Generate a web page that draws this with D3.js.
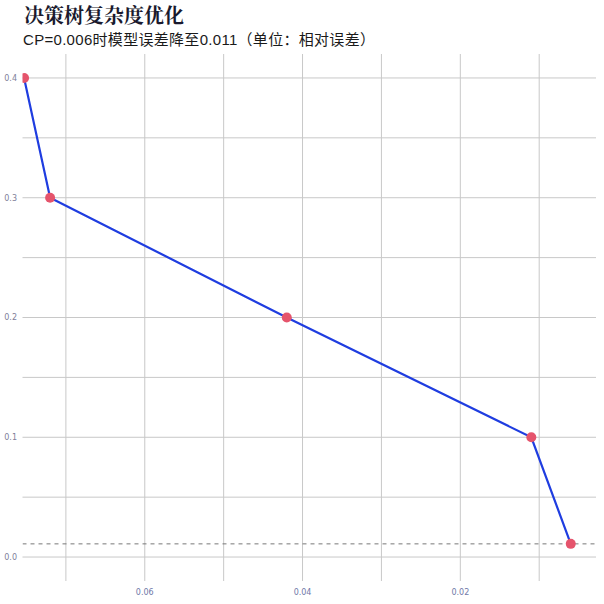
<!DOCTYPE html>
<html>
<head>
<meta charset="utf-8">
<script src="https://cdn.jsdelivr.net/npm/d3@7"></script>
<style>
  body { margin: 0; background: #fff; }
  svg { display: block; }
</style>
</head>
<body>
<svg id="chart" width="604" height="604"></svg>
<script>
// CP values (x, reversed) and relative error (y)
const cpValues = [0.0753, 0.072, 0.042, 0.011, 0.006];
const errorValues = [0.4, 0.3, 0.2, 0.1, 0.011];
const xMajorTicks = [0.06, 0.04, 0.02];
const xMinorTicks = [0.07, 0.05, 0.03, 0.01];
const yMajorTicks = [0.0, 0.1, 0.2, 0.3, 0.4];
const yMinorTicks = [0.05, 0.15, 0.25, 0.35];
const bestError = 0.011;
const titleText = "决策树复杂度优化";
const subtitleText = "CP=0.006时模型误差降至0.011（单位：相对误差）";

const data = cpValues.map((cp, i) => ({ cp, err: errorValues[i] }));

const svg = d3.select("#chart");
const panel = { left: 22.5, right: 596, top: 54, bottom: 581 };

const x = d3.scaleLinear()
    .domain([0.0755, 0.0028])
    .range([panel.left, panel.right]);

const y = d3.scaleLinear()
    .domain([-0.02, 0.42])
    .range([panel.bottom, panel.top]);

// Title and subtitle
svg.append("text")
    .attr("x", 24)
    .attr("y", 23)
    .attr("font-family", "'Noto Serif CJK SC', 'Noto Sans CJK SC', serif")
    .attr("font-weight", "bold")
    .attr("font-size", "20px")
    .attr("fill", "#1a1a2e")
    .text(titleText);

svg.append("text")
    .attr("x", 23)
    .attr("y", 45)
    .attr("font-family", "'Liberation Sans', 'Noto Sans CJK SC', sans-serif")
    .attr("font-size", "15px")
    .attr("letter-spacing", "0.3px")
    .attr("fill", "#1a1a1a")
    .text(subtitleText);

// Grid
const grid = svg.append("g").attr("stroke", "#c8c8c8").attr("stroke-width", 1);

grid.selectAll("line.yg")
    .data(yMajorTicks.concat(yMinorTicks))
    .join("line")
    .attr("class", "yg")
    .attr("x1", panel.left)
    .attr("x2", panel.right)
    .attr("y1", d => y(d))
    .attr("y2", d => y(d));

grid.selectAll("line.xg")
    .data(xMajorTicks.concat(xMinorTicks))
    .join("line")
    .attr("class", "xg")
    .attr("x1", d => x(d))
    .attr("x2", d => x(d))
    .attr("y1", panel.top)
    .attr("y2", panel.bottom);

// Axis labels
svg.append("g")
    .selectAll("text")
    .data(yMajorTicks)
    .join("text")
    .attr("x", 17)
    .attr("y", d => y(d))
    .attr("dy", "0.35em")
    .attr("text-anchor", "end")
    .attr("font-family", "'DejaVu Sans', sans-serif")
    .attr("font-size", "8px")
    .attr("fill", "#80809a")
    .text(d => d3.format(".1f")(d));

svg.append("g")
    .selectAll("text")
    .data(xMajorTicks)
    .join("text")
    .attr("x", d => x(d))
    .attr("y", 595)
    .attr("text-anchor", "middle")
    .attr("font-family", "'DejaVu Sans', sans-serif")
    .attr("font-size", "8px")
    .attr("fill", "#7078a8")
    .text(d => d3.format(".2f")(d));

// Clip to panel
svg.append("clipPath").attr("id", "clip")
    .append("rect")
    .attr("x", panel.left)
    .attr("y", panel.top)
    .attr("width", panel.right - panel.left)
    .attr("height", panel.bottom - panel.top);

const plot = svg.append("g").attr("clip-path", "url(#clip)");

// Reference line at best error
plot.append("line")
    .attr("x1", panel.left)
    .attr("x2", panel.right)
    .attr("y1", y(bestError))
    .attr("y2", y(bestError))
    .attr("stroke", "#777")
    .attr("stroke-width", 1)
    .attr("stroke-dasharray", "4,4");

// Line
plot.append("path")
    .datum(data)
    .attr("fill", "none")
    .attr("stroke", "#1f3de0")
    .attr("stroke-width", 2.2)
    .attr("d", d3.line().x(d => x(d.cp)).y(d => y(d.err)));

// Points
plot.selectAll("circle")
    .data(data)
    .join("circle")
    .attr("cx", d => x(d.cp))
    .attr("cy", d => y(d.err))
    .attr("r", 5)
    .attr("fill", "#e5546c");
</script>
</body>
</html>
